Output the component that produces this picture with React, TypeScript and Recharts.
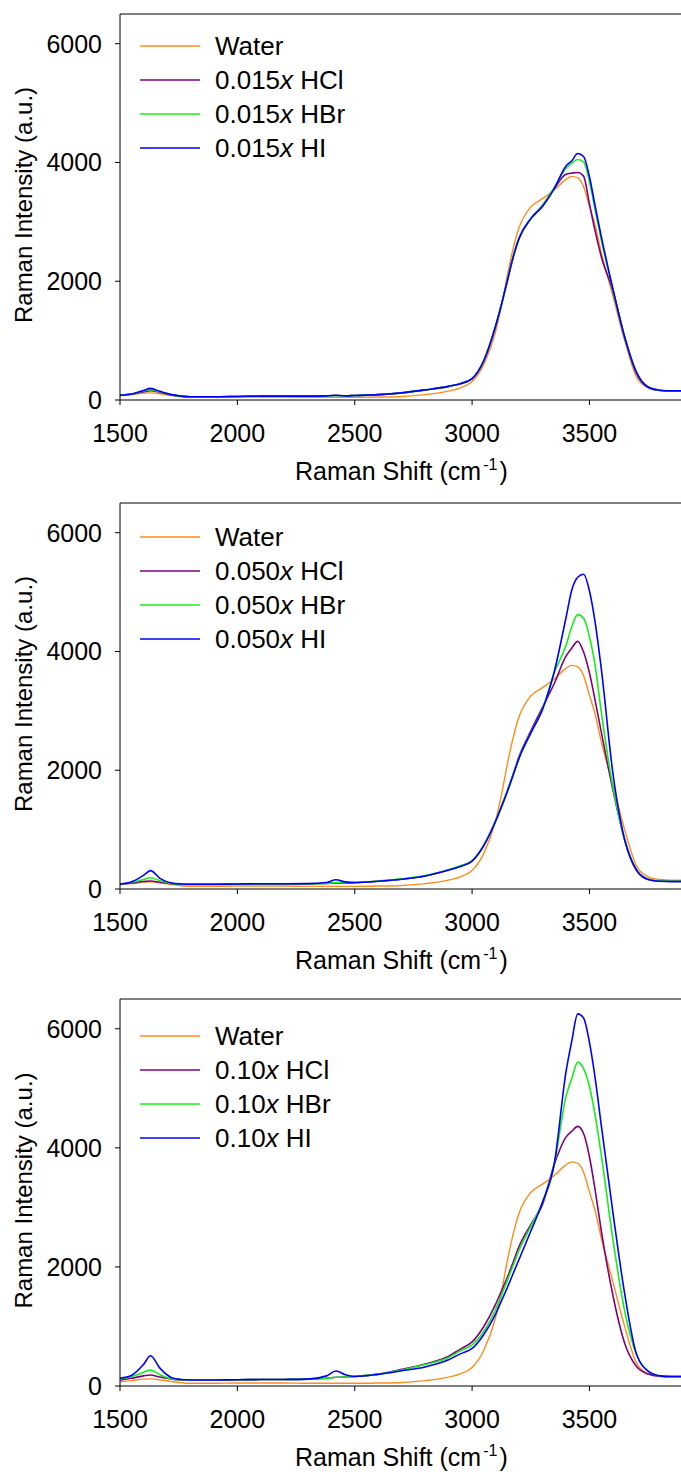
import React from 'react'
import { LineChart, Line, XAxis, YAxis, Legend, ReferenceLine, Label } from 'recharts'

const FONT = '"Liberation Sans", Arial, Helvetica, sans-serif'

// Raman shift grid (cm-1)
const shift = [
  1500, 1550, 1600, 1630, 1670, 1720, 1760, 1800, 1900, 2000, 2100, 2200, 2300, 2380, 2420, 2460,
  2500, 2600, 2700, 2800, 2900, 2950, 3000, 3050, 3100, 3125, 3150, 3175, 3200, 3250, 3300, 3350,
  3400, 3425, 3450, 3475, 3500, 3525, 3550, 3600, 3650, 3700, 3750, 3800, 3850, 3900,
]

// pure water reference (same in all panels)
const water = [
  70, 90, 115, 120, 105, 75, 55, 45, 45, 50, 50, 50, 45, 45, 45, 45,
  45, 50, 60, 90, 150, 205, 310, 600, 1150, 1580, 2100, 2550, 2900, 3250, 3390, 3535,
  3715, 3765, 3740, 3590, 3260, 2930, 2490, 1750, 1000, 390, 205, 160, 150, 150,
]

// 0.015x
const hcl015 = [
  80, 100, 135, 155, 130, 85, 65, 55, 55, 60, 65, 65, 65, 70, 75, 70,
  75, 90, 120, 170, 230, 275, 360, 660, 1240, 1600, 2000, 2400, 2720, 3050, 3280, 3560,
  3800, 3820, 3830, 3770, 3300, 2830, 2420, 1840, 1060, 450, 210, 160, 150, 150,
]
const hbr015 = [
  80, 100, 150, 175, 140, 90, 65, 55, 55, 60, 65, 65, 65, 70, 75, 70,
  75, 90, 120, 170, 230, 275, 360, 665, 1245, 1610, 2007, 2410, 2722, 3054, 3270, 3580,
  3900, 3990, 4050, 4010, 3680, 3180, 2700, 1860, 1060, 470, 220, 165, 155, 155,
]
const hi015 = [
  80, 100, 160, 195, 145, 90, 65, 55, 55, 60, 65, 65, 65, 70, 80, 70,
  75, 90, 120, 170, 230, 275, 360, 665, 1245, 1610, 2007, 2410, 2722, 3054, 3260, 3560,
  3940, 4030, 4150, 4100, 3760, 3250, 2760, 1870, 1060, 470, 220, 165, 155, 155,
]

// 0.050x
const hcl050 = [
  80, 100, 125, 135, 115, 90, 80, 78, 78, 82, 85, 85, 85, 92, 100, 98,
  105, 130, 165, 220, 320, 385, 475, 740, 1150, 1390, 1650, 1930, 2230, 2660, 3060, 3460,
  3920, 4060, 4170, 3990, 3640, 3160, 2650, 1670, 830, 320, 165, 135, 130, 130,
]
const hbr050 = [
  80, 110, 160, 190, 140, 95, 82, 80, 80, 85, 88, 88, 88, 95, 110, 105,
  110, 135, 170, 225, 325, 390, 475, 740, 1150, 1390, 1650, 1930, 2210, 2630, 3030, 3640,
  4100, 4420, 4620, 4560, 4250, 3740, 2990, 1720, 830, 320, 165, 135, 130, 130,
]
const hi050 = [
  85, 120, 230, 310, 180, 100, 85, 80, 80, 85, 88, 88, 90, 110, 155, 120,
  110, 130, 165, 220, 320, 380, 470, 731, 1137, 1380, 1638, 1920, 2200, 2625, 3024, 3659,
  4567, 5040, 5250, 5300, 5019, 4470, 3723, 1946, 830, 320, 160, 130, 125, 125,
]

// 0.10x
const hcl10 = [
  100, 130, 170, 186, 150, 115, 102, 100, 102, 105, 108, 110, 115, 130, 146, 150,
  160, 200, 280, 370, 500, 620, 740, 1000, 1370, 1595, 1820, 2080, 2340, 2710, 3050, 3720,
  4180, 4280, 4360, 4240, 3850, 3270, 2620, 1520, 720, 330, 200, 165, 160, 160,
]
const hbr10 = [
  120, 160, 230, 270, 190, 120, 105, 100, 102, 105, 108, 110, 115, 130, 146, 150,
  160, 200, 270, 360, 480, 590, 690, 920, 1285, 1520, 1770, 2025, 2280, 2680, 3090, 3725,
  4860, 5170, 5440, 5330, 5030, 4530, 3890, 2460, 1260, 530, 250, 170, 160, 160,
]
const hi10 = [
  130, 180, 360, 507, 300, 140, 110, 102, 102, 105, 108, 110, 115, 170, 253, 190,
  160, 195, 255, 320, 440, 540, 630, 866, 1208, 1430, 1650, 1890, 2125, 2600, 3085, 3730,
  5277, 5800, 6250, 6180, 5770, 5150, 4390, 2913, 1550, 540, 250, 170, 160, 160,
]

const concentrations = ['0.015', '0.050', '0.10']
const acids = ['HCl', 'HBr', 'HI']
const xTicks = [1500, 2000, 2500, 3000, 3500]
const yTicks = [0, 2000, 4000, 6000]

const colors = { water: '#FF8C1A', HCl: '#800080', HBr: '#14F014', HI: '#0000FF' }

const panels = [
  { top: 0, plotTop: 14, legendTop: 29, conc: concentrations[0], series: [hcl015, hbr015, hi015] },
  { top: 489, plotTop: 14, legendTop: 31, conc: concentrations[1], series: [hcl050, hbr050, hi050] },
  { top: 986, plotTop: 13, legendTop: 33, conc: concentrations[2], series: [hcl10, hbr10, hi10] },
]

function buildRows(series: number[][]) {
  return shift.map((x, i) => ({
    x,
    water: water[i],
    HCl: series[0][i],
    HBr: series[1][i],
    HI: series[2][i],
  }))
}

function LegendBox({ conc }: { conc: string }) {
  const items = [
    { key: 'water', label: <>Water</> },
    ...acids.map(a => ({
      key: a,
      label: (
        <>
          {conc}
          <i>x</i> {a}
        </>
      ),
    })),
  ]
  return (
    <div style={{ fontFamily: FONT, fontSize: 26, color: '#000' }}>
      {items.map(it => (
        <div key={it.key} style={{ display: 'flex', alignItems: 'center', height: 34, whiteSpace: 'nowrap' }}>
          <svg width={75} height={4} style={{ marginLeft: 140 }}>
            <line x1={0} x2={60} y1={2} y2={2} stroke={colors[it.key as keyof typeof colors]} strokeWidth={1.5} />
          </svg>
          <span style={{ lineHeight: '34px' }}>{it.label}</span>
        </div>
      ))}
    </div>
  )
}

function XTitle(props: any) {
  const vb = props.viewBox
  return (
    <text x={295} y={vb.y + 80} textAnchor="start" fontFamily={FONT} fontSize={25} fill="#000">
      Raman Shift (cm
      <tspan dx={2} dy={-10} fontSize={16}>-1</tspan>
      <tspan dx={2} dy={10}>)</tspan>
    </text>
  )
}

function YTitle(props: any) {
  const vb = props.viewBox
  const cy = vb.y + vb.height / 2 - 2
  const x = 24
  return (
    <text
      x={x}
      y={cy}
      dy="0.35em"
      textAnchor="middle"
      transform={`rotate(-90, ${x}, ${cy})`}
      fontFamily={FONT}
      fontSize={24}
      fill="#000"
    >
      Raman Intensity (a.u.)
    </text>
  )
}

function Panel({ plotTop, legendTop, conc, series }: { plotTop: number; legendTop: number; conc: string; series: number[][] }) {
  const rows = buildRows(series)
  const tick = { fontSize: 25, fill: '#000', fontFamily: FONT }
  return (
    <LineChart width={681} height={486} data={rows} margin={{ top: plotTop, right: 0, left: 0, bottom: 0 }}>
      <XAxis
        dataKey="x"
        type="number"
        domain={[1500, 3890]}
        ticks={xTicks}
        allowDataOverflow
        height={86}
        tick={tick}
        tickSize={5}
        tickMargin={19}
        axisLine={{ stroke: '#000' }}
        tickLine={{ stroke: '#000' }}
      >
        <Label content={XTitle} />
      </XAxis>
      <YAxis
        type="number"
        domain={[0, 6500]}
        ticks={yTicks}
        width={120}
        tick={tick}
        tickSize={5}
        tickMargin={13}
        axisLine={{ stroke: '#000' }}
        tickLine={{ stroke: '#000' }}
      >
        <Label content={YTitle} />
      </YAxis>
      <ReferenceLine y={6500} stroke="#000" strokeWidth={1} />
      <Legend
        layout="vertical"
        align="center"
        verticalAlign="middle"
        wrapperStyle={{ top: legendTop, left: 0, width: 420 }}
        content={() => <LegendBox conc={conc} />}
      />
      <Line dataKey="water" name="Water" type="monotone" stroke={colors.water} strokeWidth={1.4} dot={false} isAnimationActive={false} />
      <Line dataKey="HCl" name={`${conc}x HCl`} type="monotone" stroke={colors.HCl} strokeWidth={1.6} dot={false} isAnimationActive={false} />
      <Line dataKey="HBr" name={`${conc}x HBr`} type="monotone" stroke={colors.HBr} strokeWidth={1.6} dot={false} isAnimationActive={false} />
      <Line dataKey="HI" name={`${conc}x HI`} type="monotone" stroke={colors.HI} strokeWidth={1.6} dot={false} isAnimationActive={false} />
    </LineChart>
  )
}

export default function App() {
  return (
    <div style={{ position: 'absolute', left: 0, top: 0, width: 681, height: 1472, background: '#fff' }}>
      {panels.map((p, i) => (
        <div key={i} style={{ position: 'absolute', left: 0, top: p.top }}>
          <Panel plotTop={p.plotTop} legendTop={p.legendTop} conc={p.conc} series={p.series} />
        </div>
      ))}
    </div>
  )
}
